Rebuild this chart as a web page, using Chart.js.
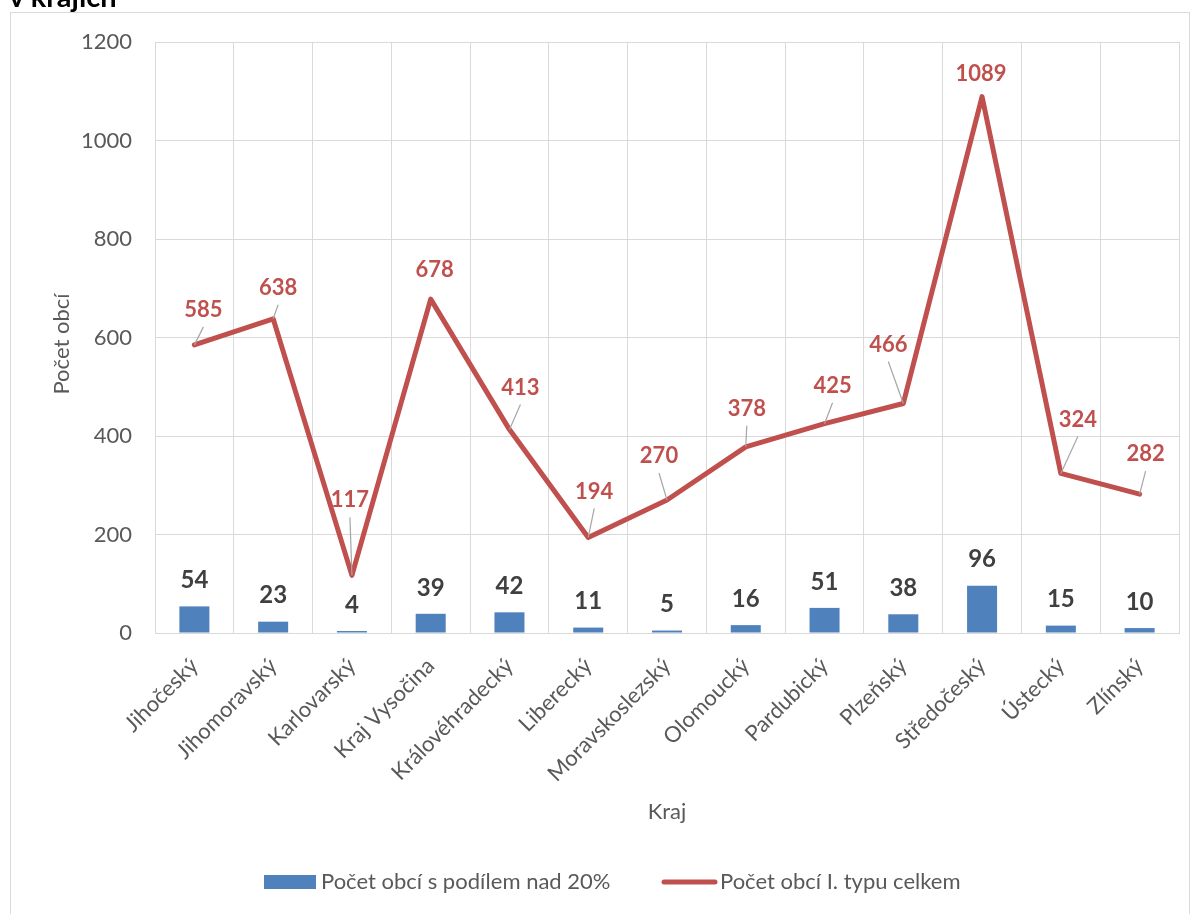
<!DOCTYPE html>
<html>
<head>
<meta charset="utf-8">
<script src="https://cdn.jsdelivr.net/npm/chart.js@4.4.1/dist/chart.umd.min.js"></script>
<style>
  html, body { margin: 0; padding: 0; background: #ffffff; overflow: hidden; }
  #wrap { position: relative; width: 1195px; height: 914px; }
  #title { position: absolute; left: 9px; top: -16px; font: bold 29px Lato, "Open Sans", sans-serif; line-height: 24px; color: #000; white-space: nowrap; }
  canvas { position: absolute; left: 0; top: 0; }
</style>
</head>
<body>
<div id="wrap">
  <canvas id="c" width="1195" height="914"></canvas>
  <div id="title">v krajích</div>
</div>
<script>
// ---- data ----
const categories = ["Jihočeský", "Jihomoravský", "Karlovarský", "Kraj Vysočina", "Královéhradecký", "Liberecký", "Moravskoslezský", "Olomoucký", "Pardubický", "Plzeňský", "Středočeský", "Ústecký", "Zlínský"];
const sharedOver20 = [54, 23, 4, 39, 42, 11, 5, 16, 51, 38, 96, 15, 10];
const totalTypeI = [585, 638, 117, 678, 413, 194, 270, 378, 425, 466, 1089, 324, 282];
const seriesNames = ["Počet obcí s podílem nad 20%", "Počet obcí I. typu celkem"];
const yTicks = [0, 200, 400, 600, 800, 1000, 1200];
const axisTitles = { x: "Kraj", y: "Počet obcí" };

const BLUE = "#4F81BD";
const RED = "#C0504D";
const GRID = "#D9D9D9";
const TXT = "#595959";
const FONT = "Lato, 'Open Sans', sans-serif";

// label placement (pixel offsets of line labels from their points)
const lineLabelOffsets = [[9,-35],[5,-31],[-2,-75],[4,-29],[11,-42],[6,-46],[-8,-44],[1,-38],[8,-38],[-15,-59],[-1,-23],[17,-54],[6,-40]];

const decorPlugin = {
  id: "decor",
  beforeDraw(chart) {
    const ctx = chart.ctx;
    ctx.save();
    ctx.strokeStyle = GRID;
    ctx.lineWidth = 1;
    ctx.strokeRect(10.5, 12.5, 1179, 1000);
    ctx.restore();
  },
  afterDatasetsDraw(chart) {
    const ctx = chart.ctx;
    ctx.save();
    // bar labels
    const barMeta = chart.getDatasetMeta(0);
    ctx.font = "bold 24px " + FONT;
    ctx.fillStyle = "#404040";
    ctx.textAlign = "center";
    ctx.textBaseline = "middle";
    barMeta.data.forEach((el, i) => {
      ctx.fillText(String(sharedOver20[i]), el.x, el.y - 26);
    });
    // line labels
    const lineMeta = chart.getDatasetMeta(1);
    ctx.font = "bold 22px " + FONT;
    lineMeta.data.forEach((el, i) => {
      const off = lineLabelOffsets[i];
      const lx = el.x + off[0], ly = el.y + off[1];
      const d = Math.hypot(off[0], off[1]);
      if (d > 30) {
        ctx.strokeStyle = "#A6A6A6";
        ctx.lineWidth = 1.2;
        ctx.beginPath();
        ctx.moveTo(lx, ly + 17);
        ctx.lineTo(el.x, el.y);
        ctx.stroke();
      }
      ctx.fillStyle = RED;
      ctx.fillText(String(totalTypeI[i]), lx, ly);
    });
    ctx.restore();
  },
  afterDraw(chart) {
    const ctx = chart.ctx;
    const area = chart.chartArea;
    ctx.save();
    ctx.fillStyle = TXT;
    ctx.font = "22px " + FONT;
    ctx.textAlign = "center";
    ctx.textBaseline = "middle";
    // axis titles
    ctx.fillText(axisTitles.x, (area.left + area.right) / 2, 812);
    ctx.save();
    ctx.translate(62, 344);
    ctx.rotate(-Math.PI / 2);
    ctx.fillText(axisTitles.y, 0, 0);
    ctx.restore();
    // legend
    const ly = 882;
    ctx.fillStyle = BLUE;
    ctx.fillRect(264, ly - 7, 52, 14);
    ctx.strokeStyle = RED;
    ctx.lineWidth = 5;
    ctx.lineCap = "round";
    ctx.beginPath();
    ctx.moveTo(664, ly);
    ctx.lineTo(715, ly);
    ctx.stroke();
    ctx.fillStyle = TXT;
    ctx.textAlign = "left";
    ctx.fillText(seriesNames[0], 321, ly, 291);
    ctx.fillText(seriesNames[1], 720, ly, 243);
    ctx.restore();
  }
};

new Chart(document.getElementById("c"), {
  data: {
    labels: categories,
    datasets: [
      {
        type: "bar",
        label: seriesNames[0],
        data: sharedOver20,
        backgroundColor: BLUE,
        borderWidth: 0,
        barPercentage: 1,
        categoryPercentage: 0.381,
        order: 1
      },
      {
        type: "line",
        label: seriesNames[1],
        data: totalTypeI,
        borderColor: RED,
        borderWidth: 5,
        borderCapStyle: "round",
        borderJoinStyle: "round",
        pointRadius: 0,
        pointHoverRadius: 0,
        tension: 0,
        fill: false,
        order: 0
      }
    ]
  },
  options: {
    responsive: false,
    animation: false,
    devicePixelRatio: 1,
    layout: { padding: { left: 0, top: 42, right: 16, bottom: 0 } },
    plugins: { legend: { display: false }, title: { display: false }, tooltip: { enabled: false } },
    scales: {
      x: {
        type: "category",
        offset: true,
        grid: { color: GRID, offset: true, drawTicks: false, lineWidth: 1 },
        border: { color: GRID },
        ticks: {
          color: TXT, font: { family: FONT, size: 22 },
          minRotation: 45, maxRotation: 45, autoSkip: false, padding: 20
        },
        afterFit(scale) { scale.height = 281; }
      },
      y: {
        min: 0, max: 1200,
        afterBuildTicks(scale) { scale.ticks = yTicks.map(v => ({ value: v })); },
        grid: { color: GRID, drawTicks: false, lineWidth: 1 },
        border: { display: false },
        ticks: { color: TXT, font: { family: FONT, size: 22 }, padding: 23, callback: v => String(v) },
        afterFit(scale) { scale.width = 155; }
      }
    }
  },
  plugins: [decorPlugin]
});
</script>
</body>
</html>
